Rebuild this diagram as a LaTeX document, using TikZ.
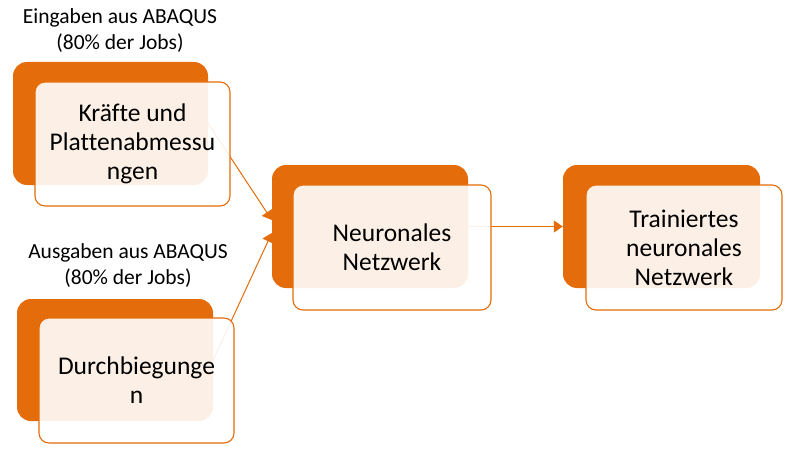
\documentclass[tikz,border=0pt]{standalone}
\usepackage{fontspec}
\setmainfont{Carlito}[Ligatures=NoCommon]
\usetikzlibrary{arrows.meta}
\definecolor{accorange}{HTML}{E46C0A}
\tikzset{
  backbox/.style={rectangle, rounded corners=14pt, fill=accorange, draw=none, inner sep=0pt},
  frontbox/.style={rectangle, rounded corners=10pt, draw=accorange, line width=1.1pt, fill=white, fill opacity=0.9, text opacity=1, inner sep=0pt, align=center, font=\fontsize{25.5}{29}\selectfont},
  lbl/.style={align=center, font=\fontsize{21.5}{26}\selectfont, inner sep=0pt},
  conn/.style={draw=accorange, line width=1pt, -{Triangle[length=9pt,width=12pt]}}
}
\begin{document}
\begin{tikzpicture}[x=1pt,y=-1pt]
\useasboundingbox (0,0) rectangle (788,452);
% back boxes
\node[backbox, minimum width=195pt, minimum height=123pt] (b1) at (110.5,123.5) {};
\node[backbox, minimum width=196pt, minimum height=122pt] (b2) at (115,360) {};
\node[backbox, minimum width=196pt, minimum height=123pt] (b3) at (370,226.5) {};
\node[backbox, minimum width=197pt, minimum height=123pt] (b4) at (661.5,226.5) {};
% connectors
\draw[conn] (b1.east) -- ([yshift=6.5pt]b3.west);
\draw[conn] (b2.east) -- ([yshift=-6.5pt]b3.west);
\draw[conn] (b3.east) -- (b4.west);
% front boxes
\node[frontbox, minimum width=195pt, minimum height=124pt] (f1) at (132.5,144) {Kräfte und\\Plattenabmessu\\ngen};
\node[frontbox, minimum width=195pt, minimum height=125pt] (f2) at (136.5,380.5) {Durchbiegunge\\n};
\node[frontbox, minimum width=198pt, minimum height=125pt] (f3) at (392,247.5) {Neuronales\\Netzwerk};
\node[frontbox, minimum width=196pt, minimum height=125pt] (f4) at (684,247.5) {Trainiertes\\neuronales\\Netzwerk};
% labels
\node[lbl] (l1) at (120,31) {Eingaben aus ABAQUS\\(80\% der Jobs)};
\node[lbl] (l2) at (128,266) {Ausgaben aus ABAQUS\\(80\% der Jobs)};
\end{tikzpicture}
\end{document}
